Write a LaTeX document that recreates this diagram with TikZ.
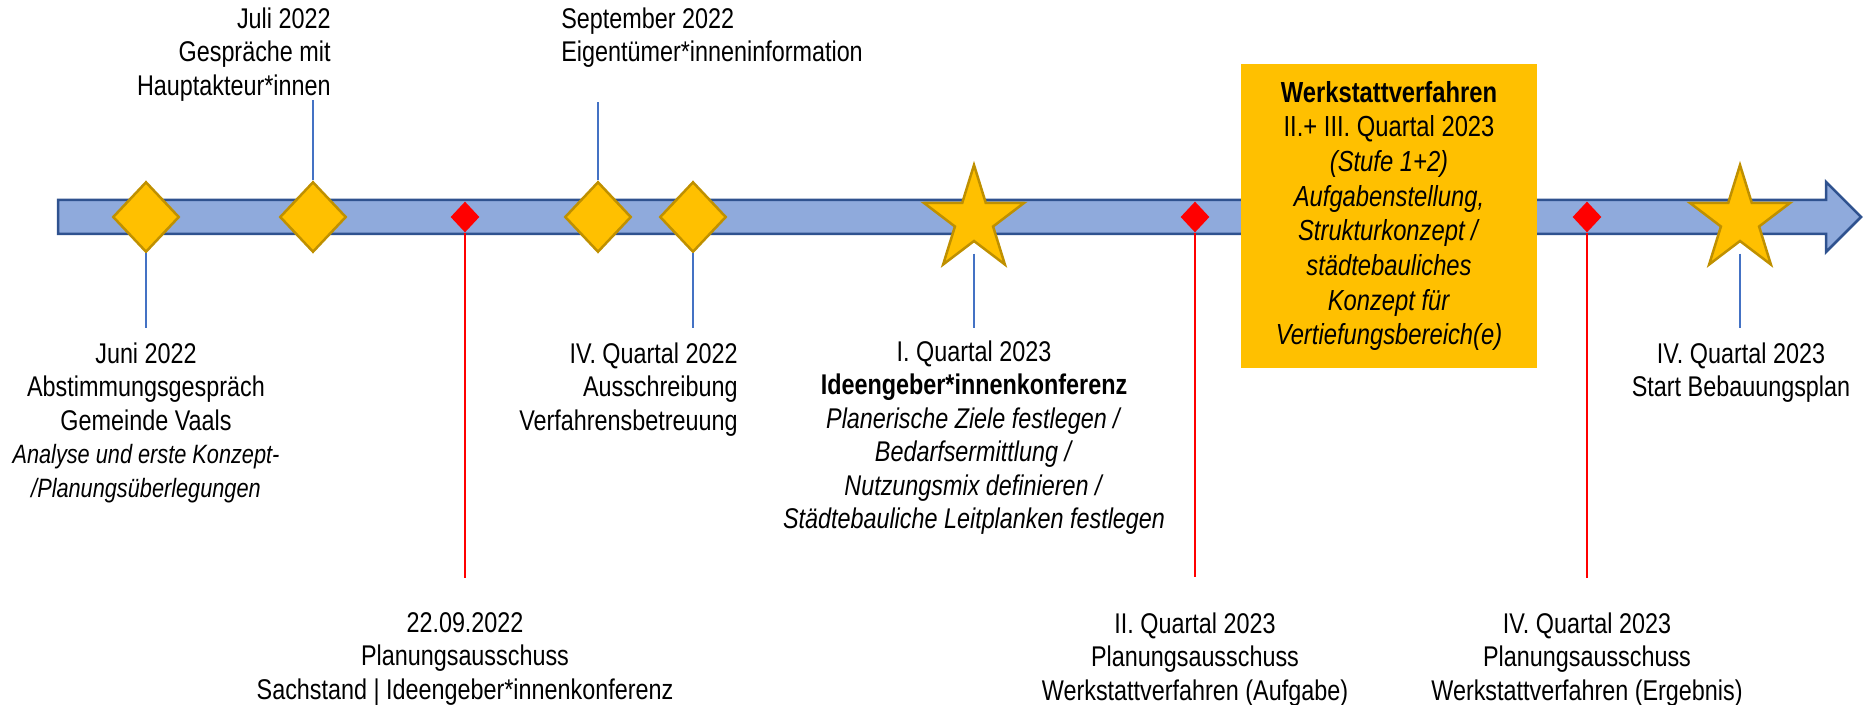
\documentclass[tikz,border=0pt]{standalone}
\usepackage{fontspec}
\setmainfont{Liberation Sans}[FakeStretch=0.82]
\usepackage{xcolor}
\usetikzlibrary{shapes.geometric}
\definecolor{barblue}{HTML}{8FAADC}
\definecolor{bardark}{HTML}{2F528F}
\definecolor{gold}{HTML}{FFC000}
\definecolor{golddark}{HTML}{BF9000}
\definecolor{stemblue}{HTML}{4472C4}
\newcommand\lfont{\fontsize{14.25}{16.75}\selectfont}
\newcommand\bfont{\fontsize{14.5}{17.35}\selectfont}

\begin{document}
\begin{tikzpicture}[x=0.5pt,y=-0.5pt,
    milestone/.style={diamond,fill=gold,draw=golddark,line width=1.25pt,inner sep=0pt,minimum width=33.25pt,minimum height=35.25pt},
    committee/.style={diamond,fill=red,inner sep=0pt,minimum width=14.5pt,minimum height=15.5pt},
    highlight/.style={star,star points=5,star point ratio=2.618,fill=gold,draw=golddark,line width=1.25pt,inner sep=0pt,minimum size=55pt,xscale=0.955},
    stem/.style={draw=stemblue,line width=0.6pt},
    redstem/.style={draw=red,line width=0.6pt},
    lbl/.style={font=\lfont,inner sep=0pt,align=center}
  ]
  \useasboundingbox (0,0) rectangle (1864,705);

  % time axis
  \filldraw[fill=barblue,draw=bardark,line width=1.25pt] (58,200) -- (1826,200) -- (1826,182) -- (1861,217) -- (1826,252) -- (1826,234) -- (58,234) -- cycle;

  \node[fill=gold,minimum width=148pt,minimum height=152pt,inner sep=0pt,align=center,font=\bfont] (werk) at (1389,216)
    {\textbf{Werkstattverfahren}\\II.+ III. Quartal 2023\\\textit{(Stufe 1+2)}\\\textit{Aufgabenstellung,}\\\textit{Strukturkonzept /}\\\textit{städtebauliches}\\\textit{Konzept für}\\\textit{Vertiefungsbereich(e)}};

  \foreach \x/\n in {146/d1,313/d2,598/d3,693/d4}
    \node[milestone] (\n) at (\x,217) {};
  \foreach \x/\n in {465/r1,1195/r2,1587/r3}
    \node[committee] (\n) at (\x,217) {};
  \node[highlight] (s1) at (974,220) {};
  \node[highlight] (s2) at (1740,220) {};

  % free ends of the stems
  \coordinate (e1) at (146,328);
  \coordinate (e2) at (313,100);
  \coordinate (e3) at (598,102);
  \coordinate (e4) at (693,328);
  \coordinate (e5) at (465,578);
  \coordinate (e6) at (974,328);
  \coordinate (e7) at (1195,577);
  \coordinate (e8) at (1587,578);
  \coordinate (e9) at (1740,328);

  \foreach \n/\e in {d1/e1,d2/e2,d3/e3,d4/e4}
    \draw[stem] (\n) -- (\e);
  \foreach \n/\e in {s1/e6,s2/e9}
    \draw[stem,shorten <=5.5pt] (\n) -- (\e);
  \foreach \n/\e in {r1/e5,r2/e7,r3/e8}
    \draw[redstem] (\n) -- (\e);

  \node[lbl,anchor=north east,align=right] (tJul) at (331,7) {Juli 2022\\Gespräche mit\\Hauptakteur*innen};
  \node[lbl,anchor=north west,align=left] (tSep) at (561,7) {September 2022\\Eigentümer*inneninformation};
  \node[lbl,anchor=north] (tJun) at (146,342) {Juni 2022\\Abstimmungsgespräch\\Gemeinde Vaals\\{\fontsize{13.25}{16}\selectfont\itshape Analyse und erste Konzept-}\\{\fontsize{13.25}{16}\selectfont\itshape /Planungsüberlegungen}};
  \node[lbl,anchor=north east,align=right] (tAus) at (738,342) {IV. Quartal 2022\\Ausschreibung\\Verfahrensbetreuung};
  \node[lbl,anchor=north] (tPa1) at (465,612) {22.09.2022\\Planungsausschuss\\Sachstand | Ideengeber*innenkonferenz};
  \node[lbl,anchor=north] (tIdee) at (974,340) {I. Quartal 2023\\\textbf{Ideengeber*innenkonferenz}\\\textit{Planerische Ziele festlegen /}\\\textit{Bedarfsermittlung /}\\\textit{Nutzungsmix definieren /}\\\textit{Städtebauliche Leitplanken festlegen}};
  \node[lbl,anchor=north] (tPa2) at (1195,612) {II. Quartal 2023\\Planungsausschuss\\Werkstattverfahren (Aufgabe)};
  \node[lbl,anchor=north] (tPa3) at (1587,612) {IV. Quartal 2023\\Planungsausschuss\\Werkstattverfahren (Ergebnis)};
  \node[lbl,anchor=north] (tBplan) at (1741,342) {IV. Quartal 2023\\Start Bebauungsplan};
\end{tikzpicture}
\end{document}
